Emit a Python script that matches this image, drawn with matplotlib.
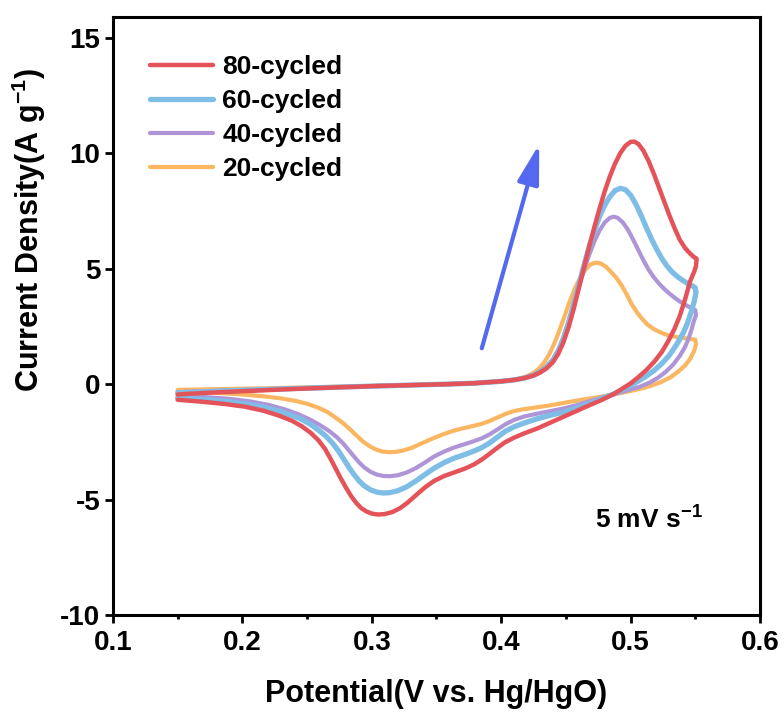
import matplotlib
matplotlib.use("Agg")
import matplotlib.pyplot as plt
from matplotlib.ticker import MultipleLocator

plt.rcParams['font.family'] = ['Liberation Sans', 'DejaVu Sans']
plt.rcParams['font.weight'] = 'bold'
plt.rcParams['axes.unicode_minus'] = False
plt.rcParams['mathtext.fontset'] = 'custom'
plt.rcParams['mathtext.bf'] = 'Liberation Sans:bold'
plt.rcParams['mathtext.rm'] = 'Liberation Sans:bold'
plt.rcParams['mathtext.default'] = 'bf'

# CV loops: anodic sweep 0.15 -> 0.55 V, then cathodic sweep back to 0.15 V
v80 = [0.150, 0.165, 0.180, 0.200, 0.220, 0.240, 0.260, 0.280, 0.300, 0.320, 0.340, 0.360,
       0.380, 0.400, 0.410, 0.418, 0.425, 0.430, 0.435, 0.440, 0.444, 0.448, 0.452, 0.456,
       0.460, 0.464, 0.468, 0.472, 0.476, 0.480, 0.484, 0.488, 0.492, 0.496, 0.500, 0.503,
       0.506, 0.510, 0.514, 0.518, 0.522, 0.526, 0.530, 0.534, 0.538, 0.542, 0.546, 0.549,
       0.551,
       0.5505, 0.549, 0.546, 0.542, 0.538, 0.534, 0.529, 0.524, 0.518, 0.512, 0.506, 0.500,
       0.493, 0.487, 0.478, 0.468, 0.458, 0.448, 0.438, 0.428, 0.418, 0.410, 0.403, 0.397,
       0.391, 0.385, 0.379, 0.372, 0.364, 0.356, 0.348, 0.341, 0.334, 0.328, 0.322, 0.316,
       0.310, 0.305, 0.300, 0.296, 0.292, 0.288, 0.284, 0.280, 0.276, 0.272, 0.268, 0.264,
       0.259, 0.253, 0.246, 0.238, 0.228, 0.216, 0.202, 0.186, 0.168, 0.150]
j80 = [-0.45, -0.40, -0.36, -0.31, -0.26, -0.21, -0.17, -0.13, -0.09, -0.06, -0.03, 0.00,
       0.04, 0.12, 0.18, 0.26, 0.37, 0.50, 0.68, 0.95, 1.30, 1.80, 2.45, 3.25,
       4.15, 5.05, 5.95, 6.80, 7.60, 8.35, 9.00, 9.55, 10.00, 10.32, 10.49, 10.50,
       10.40, 10.10, 9.65, 9.10, 8.50, 7.90, 7.30, 6.75, 6.25, 5.90, 5.65, 5.50,
       5.43,
       5.10, 4.85, 4.45, 3.65, 2.95, 2.40, 1.85, 1.38, 0.95, 0.60, 0.30, 0.03,
       -0.22, -0.43, -0.68, -0.92, -1.17, -1.42, -1.67, -1.92, -2.13, -2.32, -2.52, -2.76,
       -3.02, -3.27, -3.48, -3.66, -3.82, -3.98, -4.20, -4.48, -4.82, -5.12, -5.37, -5.54,
       -5.63, -5.65, -5.61, -5.52, -5.38, -5.15, -4.85, -4.48, -4.08, -3.65, -3.22, -2.82,
       -2.45, -2.12, -1.83, -1.58, -1.36, -1.15, -0.98, -0.86, -0.76, -0.68]

v60 = [0.150, 0.180, 0.220, 0.260, 0.300, 0.340, 0.360, 0.380, 0.400, 0.410, 0.418, 0.425,
       0.430, 0.435, 0.440, 0.444, 0.448, 0.452, 0.456, 0.460, 0.464, 0.468, 0.472, 0.476,
       0.480, 0.484, 0.488, 0.492, 0.496, 0.500, 0.504, 0.508, 0.512, 0.516, 0.520, 0.524,
       0.528, 0.532, 0.536, 0.540, 0.544, 0.548, 0.550,
       0.5505, 0.549, 0.547, 0.544, 0.541, 0.536, 0.530, 0.524, 0.518, 0.512, 0.505, 0.497,
       0.487, 0.478, 0.468, 0.458, 0.448, 0.438, 0.428, 0.418, 0.410, 0.403, 0.397, 0.391,
       0.385, 0.379, 0.372, 0.364, 0.356, 0.348, 0.341, 0.334, 0.327, 0.320, 0.314, 0.309,
       0.304, 0.299, 0.294, 0.290, 0.286, 0.282, 0.278, 0.274, 0.270, 0.265, 0.259, 0.252,
       0.244, 0.234, 0.222, 0.208, 0.192, 0.172, 0.150]
j60 = [-0.38, -0.31, -0.23, -0.16, -0.09, -0.03, 0.00, 0.04, 0.12, 0.18, 0.26, 0.38,
       0.52, 0.72, 1.02, 1.40, 1.95, 2.65, 3.45, 4.30, 5.15, 5.95, 6.65, 7.25,
       7.75, 8.12, 8.38, 8.48, 8.42, 8.18, 7.80, 7.32, 6.80, 6.30, 5.85, 5.45,
       5.12, 4.86, 4.66, 4.50, 4.36, 4.24, 4.17,
       3.95, 3.55, 3.15, 2.65, 2.25, 1.75, 1.25, 0.88, 0.58, 0.34, 0.10, -0.15,
       -0.43, -0.63, -0.84, -1.05, -1.22, -1.35, -1.50, -1.68, -1.85, -2.05, -2.30, -2.55,
       -2.75, -2.90, -3.05, -3.20, -3.40, -3.65, -3.92, -4.20, -4.45, -4.62, -4.70, -4.72,
       -4.68, -4.58, -4.40, -4.18, -3.90, -3.58, -3.22, -2.88, -2.58, -2.28, -2.00, -1.72,
       -1.48, -1.27, -1.07, -0.91, -0.78, -0.67, -0.60]

v40 = [0.150, 0.180, 0.220, 0.260, 0.300, 0.340, 0.360, 0.380, 0.400, 0.410, 0.418, 0.425,
       0.430, 0.435, 0.440, 0.444, 0.448, 0.452, 0.456, 0.460, 0.464, 0.468, 0.472, 0.476,
       0.480, 0.484, 0.487, 0.490, 0.494, 0.498, 0.502, 0.506, 0.510, 0.514, 0.518, 0.522,
       0.526, 0.530, 0.534, 0.538, 0.542, 0.546, 0.550,
       0.5505, 0.549, 0.547, 0.545, 0.542, 0.538, 0.533, 0.527, 0.521, 0.515, 0.507, 0.497,
       0.487, 0.478, 0.468, 0.458, 0.448, 0.438, 0.428, 0.418, 0.410, 0.403, 0.397, 0.391,
       0.385, 0.379, 0.372, 0.364, 0.356, 0.348, 0.341, 0.334, 0.327, 0.320, 0.314, 0.309,
       0.304, 0.299, 0.294, 0.290, 0.286, 0.282, 0.278, 0.273, 0.267, 0.260, 0.252, 0.243,
       0.232, 0.220, 0.206, 0.190, 0.170, 0.150]
j40 = [-0.35, -0.29, -0.22, -0.15, -0.09, -0.03, 0.00, 0.04, 0.12, 0.18, 0.27, 0.40,
       0.55, 0.76, 1.08, 1.48, 2.02, 2.70, 3.45, 4.22, 4.95, 5.60, 6.18, 6.65,
       7.00, 7.20, 7.25, 7.20, 7.00, 6.68, 6.25, 5.80, 5.35, 4.95, 4.62, 4.35,
       4.12, 3.92, 3.74, 3.58, 3.44, 3.32, 3.20,
       2.98, 2.75, 2.35, 2.00, 1.60, 1.22, 0.85, 0.52, 0.27, 0.07, -0.12, -0.28,
       -0.43, -0.58, -0.75, -0.92, -1.06, -1.17, -1.28, -1.40, -1.55, -1.75, -1.97, -2.18,
       -2.35, -2.47, -2.60, -2.74, -2.92, -3.14, -3.40, -3.64, -3.83, -3.95, -3.99, -3.98,
       -3.92, -3.80, -3.60, -3.38, -3.12, -2.85, -2.58, -2.30, -2.03, -1.78, -1.53, -1.30,
       -1.08, -0.90, -0.75, -0.64, -0.56, -0.50]

v20 = [0.150, 0.180, 0.220, 0.260, 0.300, 0.340, 0.360, 0.380, 0.400, 0.408, 0.415, 0.420,
       0.425, 0.429, 0.433, 0.437, 0.441, 0.445, 0.449, 0.453, 0.457, 0.461, 0.465, 0.469,
       0.473, 0.477, 0.481, 0.485, 0.489, 0.493, 0.497, 0.501, 0.505, 0.509, 0.513, 0.518,
       0.523, 0.528, 0.534, 0.540, 0.546, 0.550,
       0.5505, 0.549, 0.546, 0.542, 0.537, 0.531, 0.524, 0.517, 0.510, 0.500, 0.487, 0.475,
       0.462, 0.450, 0.438, 0.426, 0.416, 0.409, 0.403, 0.397, 0.391, 0.385, 0.378, 0.370,
       0.362, 0.354, 0.346, 0.338, 0.331, 0.324, 0.318, 0.313, 0.308, 0.303, 0.298, 0.293,
       0.288, 0.283, 0.278, 0.272, 0.266, 0.259, 0.251, 0.242, 0.230, 0.215, 0.195, 0.172,
       0.150]
j20 = [-0.25, -0.22, -0.18, -0.13, -0.08, -0.03, 0.00, 0.04, 0.12, 0.17, 0.25, 0.34,
       0.48, 0.66, 0.92, 1.28, 1.75, 2.32, 2.95, 3.58, 4.15, 4.60, 4.95, 5.18,
       5.26, 5.22, 5.08, 4.85, 4.60, 4.28, 3.88, 3.45, 3.10, 2.82, 2.58, 2.38,
       2.24, 2.13, 2.05, 2.00, 1.96, 1.92,
       1.72, 1.42, 1.09, 0.80, 0.55, 0.30, 0.10, -0.05, -0.17, -0.30, -0.45, -0.57,
       -0.68, -0.80, -0.92, -1.02, -1.10, -1.18, -1.30, -1.45, -1.60, -1.72, -1.82, -1.92,
       -2.04, -2.20, -2.38, -2.58, -2.76, -2.88, -2.94, -2.95, -2.92, -2.83, -2.68, -2.48,
       -2.22, -1.95, -1.70, -1.45, -1.22, -1.03, -0.87, -0.74, -0.62, -0.52, -0.43, -0.36,
       -0.32]

labels = ['80-cycled', '60-cycled', '40-cycled', '20-cycled']
colors = ['#E5535A', '#7DBDE6', '#AE95D8', '#FBB662']
widths = [3.2, 3.8, 3.0, 3.0]

arrow_tail = (0.385, 1.55)
arrow_head = (0.4294, 10.39)

fig = plt.figure(figsize=(7.84, 7.15), dpi=100)
ax = fig.add_axes([0.1441, 0.1399, 0.8253, 0.8364])

curves = [(v80, j80), (v60, j60), (v40, j40), (v20, j20)]
lines = []
for i in [3, 2, 1, 0]:
    v, j = curves[i]
    ln, = ax.plot(v, j, color=colors[i], lw=widths[i], label=labels[i],
                  solid_joinstyle='round', solid_capstyle='round')
    lines.append(ln)
lines = lines[::-1]

ax.annotate('', xy=arrow_head, xytext=arrow_tail,
            arrowprops=dict(arrowstyle='-|>,head_length=0.8,head_width=0.22',
                            color='#5468F0', lw=3, mutation_scale=30,
                            shrinkA=0, shrinkB=0))

ax.text(0.4725, -5.87, r'5 mV s$^{-1}$', fontsize=19, fontweight='bold',
        ha='left', va='center')

ax.set_xlim(0.1, 0.6)
ax.set_ylim(-10, 15.9)
ax.xaxis.set_minor_locator(MultipleLocator(0.05))
ax.set_yticks([-10, -5, 0, 5, 10, 15])
ax.set_xticks([0.1, 0.2, 0.3, 0.4, 0.5, 0.6])
ax.set_xticklabels(['0.1', '0.2', '0.3', '0.4', '0.5', '0.6'])

for s in ax.spines.values():
    s.set_linewidth(2.2)
ax.tick_params(which='major', direction='out', length=5.5, width=2, labelsize=20,
               top=False, right=False)
ax.tick_params(axis='x', which='major', pad=5)
ax.tick_params(which='minor', direction='out', length=3, width=2, top=False, right=False)
for lab in ax.get_xticklabels() + ax.get_yticklabels():
    lab.set_fontweight('bold')

ax.set_xlabel('Potential(V vs. Hg/HgO)', fontsize=22, fontweight='bold', labelpad=17)
ax.set_ylabel(r'Current Density(A g$^{-1}$)', fontsize=22, fontweight='bold')
ax.yaxis.set_label_coords(-0.100, 0.644)

ax.legend(handles=lines, loc='upper left', bbox_to_anchor=(0.057, 0.936), frameon=False,
          prop={'size': 19, 'weight': 'bold'}, handlelength=2.4, handletextpad=0.35,
          labelspacing=0.38, borderpad=0, borderaxespad=0)

fig.savefig('out.png', dpi=100)
